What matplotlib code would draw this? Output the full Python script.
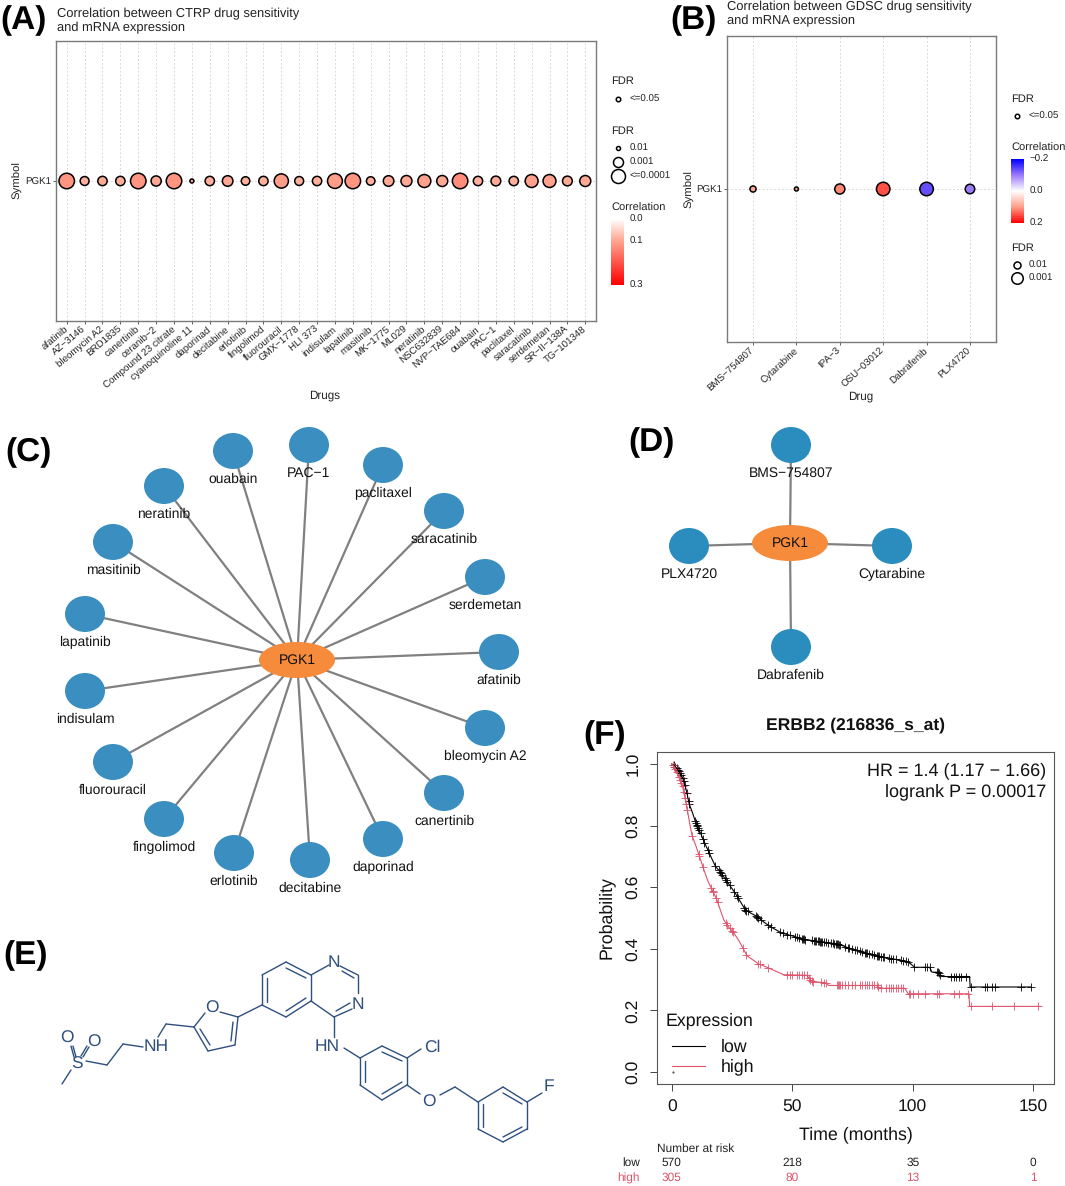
import numpy as np
import matplotlib
matplotlib.use("Agg")
import matplotlib.pyplot as plt
from matplotlib.colors import LinearSegmentedColormap
from matplotlib.patches import Ellipse
from matplotlib.transforms import blended_transform_factory

plt.rcParams["font.family"] = ["Liberation Sans", "DejaVu Sans"]
plt.rcParams["text.hinting"] = "no_hinting"

W, H = 1065, 1186

# ---- panel A data
ctrp_drugs = ["afatinib", "AZ\u22123146", "bleomycin A2", "BRD1835", "canertinib", "ceranib\u22122",
              "Compound 23 citrate", "cyanoquinoline 11", "daporinad", "decitabine", "erlotinib",
              "fingolimod", "fluorouracil", "GMX\u22121778", "HLI 373", "indisulam", "lapatinib",
              "masitinib", "MK\u22121775", "ML029", "neratinib", "NSC632839", "NVP\u2212TAE684",
              "ouabain", "PAC\u22121", "paclitaxel", "saracatinib", "serdemetan", "SR\u2212II\u2212138A",
              "TG\u2212101348"]
ctrp_logfdr = [4.0, 2.8, 2.9, 2.9, 4.0, 3.1, 4.0, 1.9, 2.9, 3.2, 2.7, 2.9, 3.8, 2.8, 2.9,
               3.9, 4.0, 2.7, 3.2, 3.3, 3.6, 3.3, 4.0, 2.9, 3.0, 2.9, 3.6, 3.6, 3.0, 3.3]
ctrp_corr = [0.12, 0.09, 0.095, 0.09, 0.12, 0.095, 0.12, 0.10, 0.09, 0.095, 0.09, 0.09, 0.11, 0.09, 0.09,
             0.11, 0.12, 0.09, 0.095, 0.095, 0.105, 0.095, 0.13, 0.09, 0.095, 0.09, 0.105, 0.105, 0.095, 0.095]

# ---- panel B data
gdsc_drugs = ["BMS\u2212754807", "Cytarabine", "IPA\u22123", "OSU\u221203012", "Dabrafenib", "PLX4720"]
gdsc_logfdr = [1.9, 1.4, 2.6, 3.2, 3.2, 2.5]
gdsc_corr = [0.09, 0.10, 0.115, 0.15, -0.135, -0.10]

# ---- panel C / D networks: label, node x, node y (pixels of the layout)
net_c_names = ["ouabain", "PAC\u22121", "paclitaxel", "saracatinib", "serdemetan", "afatinib",
               "bleomycin A2", "canertinib", "daporinad", "decitabine", "erlotinib", "fingolimod",
               "fluorouracil", "indisulam", "lapatinib", "masitinib", "neratinib"]
net_c_x = [233, 309, 383, 444, 485, 499, 485, 444, 383, 310, 234, 164, 113, 85, 85, 113, 164]
net_c_y = [451, 445, 465, 511, 577, 652, 728, 793, 839, 860, 853, 819, 762, 691, 614, 542, 486]
net_d_names = ["BMS\u2212754807", "PLX4720", "Cytarabine", "Dabrafenib"]
net_d_x = [791, 689, 892, 791]
net_d_y = [445, 546, 546, 647]

# ---- panel E lapatinib skeleton, segments in layout pixels
mol_bonds = [
    (286, 962, 311, 975), (311, 975, 311, 1001), (311, 1001, 286, 1017), (286, 1017, 262, 1005),
    (262, 1005, 262, 975), (262, 975, 286, 962), (311, 975, 329, 965), (340, 966, 358, 975),
    (358, 975, 358, 993), (352, 1009, 334, 1017), (334, 1017, 311, 1001),
    (334, 1017, 334, 1037), (344, 1048, 360, 1058),
    (360, 1058, 382, 1046), (382, 1046, 407, 1058), (407, 1058, 407, 1085), (407, 1085, 382, 1100),
    (382, 1100, 360, 1085), (360, 1085, 360, 1058), (407, 1058, 421, 1049), (407, 1085, 420, 1094),
    (440, 1095, 455, 1087), (455, 1087, 478, 1102),
    (478, 1102, 503, 1087), (503, 1087, 527, 1102), (527, 1102, 527, 1129), (527, 1129, 503, 1142),
    (503, 1142, 478, 1129), (478, 1129, 478, 1102), (527, 1102, 542, 1093),
    (238, 1017, 262, 1005), (220, 1012, 238, 1017), (238, 1017, 235, 1045), (235, 1045, 208, 1051),
    (208, 1051, 194, 1027), (194, 1027, 205, 1013), (194, 1027, 166, 1024), (166, 1024, 158, 1037),
    (143, 1047, 123, 1044), (123, 1044, 107, 1065), (107, 1065, 86, 1061), (71, 1070, 62, 1084),
]
mol_double = [
    (286, 968, 306, 978), (306, 998, 286, 1011), (267, 1002, 267, 978),
    (342, 971, 354, 978), (350, 1003, 336, 1011),
    (382, 1052, 402, 1061), (402, 1082, 382, 1094), (365, 1082, 365, 1061),
    (503, 1093, 522, 1104), (522, 1127, 503, 1137), (483, 1127, 483, 1104),
    (233, 1022, 231, 1041), (210, 1045, 200, 1029),
    (73, 1046, 76, 1057), (71, 1046, 74, 1057), (89, 1047, 83, 1057), (87, 1046, 81, 1056),
]
mol_atoms = [("N", 334, 963), ("N", 358, 1005), ("HN", 327, 1047), ("Cl", 432, 1047), ("O", 429, 1102),
             ("F", 549, 1087), ("O", 212, 1008), ("NH", 156, 1047), ("S", 77, 1064), ("O", 67, 1038),
             ("O", 94, 1042)]

# ---- panel F Kaplan-Meier curves
low_t = [0, 1.2, 2.6, 4, 5.1, 6.2, 7.2, 8.7, 10.3, 12, 13.4, 15.4, 16.8, 18.2, 20.2, 23, 26.4, 28.5, 30.6, 33,
         35.4, 38, 40.9, 45.7, 50, 54.7, 59, 63, 69, 71, 73.3, 77, 80.2, 84, 87.7, 92, 97.4, 99, 100.8, 107,
         108, 110.9, 112, 113.6, 123.6, 123.8, 149]
low_p = [1.0, 0.995, 0.98, 0.965, 0.943, 0.91, 0.872, 0.84, 0.802, 0.775, 0.748, 0.714, 0.69, 0.667, 0.649, 0.618,
         0.58, 0.553, 0.526, 0.515, 0.505, 0.488, 0.472, 0.451, 0.442, 0.431, 0.426, 0.422, 0.415, 0.41,
         0.403, 0.395, 0.386, 0.38, 0.373, 0.367, 0.359, 0.352, 0.34, 0.34, 0.324, 0.324, 0.31, 0.31, 0.31,
         0.276, 0.276]
high_t = [0, 1.2, 2.6, 4.4, 5.5, 6.5, 7.5, 8.5, 10, 11.3, 13.4, 15, 16.8, 18.6, 20, 21.6, 23.5, 25.8, 28, 29.9,
          31.3, 33.5, 36.1, 39.5, 43, 46.4, 56, 58.1, 64.3, 65, 85, 86.1, 96.7, 98.1, 123.3, 123.6, 153]
high_p = [1.0, 0.99, 0.964, 0.932, 0.89, 0.851, 0.805, 0.766, 0.735, 0.705, 0.656, 0.62, 0.591, 0.562, 0.53, 0.494,
          0.472, 0.451, 0.425, 0.397, 0.377, 0.365, 0.351, 0.34, 0.328, 0.316, 0.314, 0.294, 0.289, 0.281, 0.281,
          0.272, 0.272, 0.254, 0.254, 0.213, 0.213]
low_censor = [1, 1.5, 2, 2.5, 3, 3.5, 4, 4.5, 5, 5.5, 6.3, 7, 7.3, 9.8, 10, 10.3, 10.6, 11, 11.4, 12, 13, 13.6, 15,
              15.5, 18, 19.5, 20, 20.5, 21, 22, 22.5, 23, 24, 26, 27, 27.5, 30, 30.5, 31, 31.5, 35, 35.5, 36, 37,
              40, 41, 45, 46, 48, 49, 51, 52, 53, 54, 54.5, 55, 55.5, 58, 59, 59.5, 60, 60.5, 61, 61.5, 62, 62.5,
              63, 64, 65, 66, 67, 67.5, 68, 68.5, 69, 69.5, 70, 72, 73, 73.5, 75, 76, 77, 78, 79, 80, 80.5, 81, 82,
              83, 84, 85, 85.5, 86, 87, 87.5, 88, 90, 91, 92, 93, 95, 96, 97, 98, 100.5, 105, 106, 107, 110, 110.5,
              111, 111.5, 116, 117, 118, 119, 120, 122, 124, 130, 131, 133, 134, 145, 149]
high_censor = [0.5, 1, 1.5, 2, 3, 3.5, 4, 4.5, 5, 5.5, 6, 6.5, 8.5, 11.2, 11.5, 13, 16.5, 17, 17.3, 18.5, 19, 22.5,
               23, 24, 25, 25.5, 29.5, 31, 36, 36.5, 40, 48, 49, 50, 52, 53, 54, 55, 56, 57, 57.5, 58, 58.5, 62, 63,
               64, 68.5, 69, 69.5, 70, 70.5, 72, 73, 75, 76, 78, 79, 80, 81, 82, 83, 84, 85, 85.5, 87, 89, 90, 91,
               92, 93, 94, 95, 96, 98.5, 99, 100, 102, 105, 110, 111, 117, 119, 123, 124, 133, 142, 152]
risk_times = [0, 50, 100, 150]
risk_low = [570, 218, 35, 0]
risk_high = [305, 80, 13, 1]

panel_labels = [("(A)", 0, 21), ("(B)", 670, 21), ("(C)", 5, 453), ("(D)", 628, 443), ("(E)", 3, 956), ("(F)", 583, 736)]

corr_a = LinearSegmentedColormap.from_list("a", [(0, "#ffffff"), (1 / 3, "#ffa58f"), (1, "#ff0000")])
corr_b = LinearSegmentedColormap.from_list("b", ["#0000ff", "#9d7bfb", "#ffffff", "#ffa08a", "#ff0000"])
GREY = "#7a7a7a"
RED = "#DF536B"
NAVY = "#2f4f7f"

fig = plt.figure(figsize=(W / 100, H / 100), dpi=100)


def axes_px(l, t, r, b):
    return fig.add_axes([l / W, 1 - b / H, (r - l) / W, (b - t) / H])


def px_size(d):
    return (d * 0.72) ** 2


def bubble_panel(box, drugs, logfdr, corr, cmap, vmin, vmax, xp, dp, pad, rot):
    ax = axes_px(*box)
    x = np.arange(len(drugs))
    diam = np.interp(logfdr, xp, dp)
    ax.scatter(x, np.zeros(len(x)), s=px_size(diam), c=corr, cmap=cmap, vmin=vmin, vmax=vmax,
               edgecolors="black", linewidths=1.1, zorder=3)
    ax.set_xlim(-pad, len(drugs) - 1 + pad)
    ax.set_ylim(-1, 1)
    ax.set_xticks(x)
    ax.set_xticklabels(drugs, rotation=rot, ha="right", va="center", rotation_mode="anchor",
                       fontsize=7.0, color="#222222")
    ax.set_yticks([0])
    ax.set_yticklabels(["PGK1"], fontsize=7.0, color="#222222")
    ax.tick_params(axis="y", length=2.2, width=0.6, color="#444444", pad=1.5)
    ax.tick_params(axis="x", length=2.2, width=0.6, color="#444444", pad=3)
    ax.grid(True, color="#d9d9d9", lw=0.7, ls=(0, (2, 2)))
    ax.set_axisbelow(True)
    for s in ax.spines.values():
        s.set_color(GREY)
        s.set_linewidth(1.0)
    return ax


def colorbar_px(box, cmap, ticks, labels, vmin, vmax, text_x):
    cax = axes_px(*box)
    grad = np.linspace(vmin, vmax, 200).reshape(-1, 1)
    cax.imshow(grad, aspect="auto", cmap=cmap, vmin=vmin, vmax=vmax, extent=[0, 1, vmax, vmin])
    cax.axis("off")
    for v, lab in zip(ticks, labels):
        cax.text(text_x, v, lab, fontsize=7, va="center", ha="left", color="#222222",
                 transform=blended_transform_factory(cax.transAxes, cax.transData), clip_on=False)


# panel A
bubble_panel((56, 41, 596, 321), ctrp_drugs, ctrp_logfdr, ctrp_corr, corr_a, 0, 0.3,
             [1.9, 2.7, 3.3, 4.0], [4, 8.5, 11, 15.5], 0.6, 40)
colorbar_px((611, 219, 624, 285), corr_a, [0.0, 0.1, 0.3], ["0.0", "0.1", "0.3"], 0, 0.3, 1.45)

# panel B
bubble_panel((727, 36, 996, 342), gdsc_drugs, gdsc_logfdr, gdsc_corr, corr_b, -0.2, 0.2,
             [1.4, 2.0, 3.0, 3.3], [4, 6.5, 12.5, 14], 0.6, 43)
colorbar_px((1011, 159, 1024, 223), corr_b, [-0.2, 0.0, 0.2], ["\u22120.2", "0.0", "0.2"], -0.2, 0.2, 1.4)

# panel F
ax = axes_px(657, 752, 1054, 1084)
ax.plot(low_t, low_p, color="black", lw=0.8, zorder=3)
ax.plot(high_t, high_p, color=RED, lw=0.8, zorder=3)
ax.plot(low_censor, np.interp(low_censor, low_t, low_p), "+", color="black", ms=6, mew=0.6)
ax.plot(high_censor, np.interp(high_censor, high_t, high_p), "+", color=RED, ms=6, mew=0.6)
ax.set_xlim(-6.1, 158.6)
ax.set_ylim(-0.039, 1.039)
ax.set_xticks([0, 50, 100, 150])
ax.set_yticks([0, 0.2, 0.4, 0.6, 0.8, 1.0])
ax.set_yticklabels(["0.0", "0.2", "0.4", "0.6", "0.8", "1.0"], rotation=90, va="center")
ax.tick_params(labelsize=12.6, length=5, width=0.7, color="#444444", pad=6, labelcolor="#111111")
ax.set_xlabel("Time (months)", fontsize=12.8, labelpad=8, color="#111111")
ax.set_ylabel("Probability", fontsize=12.8, labelpad=8, color="#111111")
ax.set_title("ERBB2 (216836_s_at)", fontsize=12.6, fontweight="bold", pad=16, color="#111111")
for s in ax.spines.values():
    s.set_color("#555555")
    s.set_linewidth(0.8)
ax.text(0.98, 0.944, "HR = 1.4 (1.17 \u2212 1.66)", transform=ax.transAxes,
        ha="right", va="center", fontsize=13, color="#111111")
ax.text(0.98, 0.881, "logrank P = 0.00017", transform=ax.transAxes,
        ha="right", va="center", fontsize=13, color="#111111")
risk_tr = blended_transform_factory(ax.transData, fig.transFigure)
for t, lo, hi in zip(risk_times, risk_low, risk_high):
    ax.text(t, 1 - 1163 / H, str(lo), transform=risk_tr, ha="center", va="center", fontsize=8.6, color="#222222")
    ax.text(t, 1 - 1178 / H, str(hi), transform=risk_tr, ha="center", va="center", fontsize=8.6, color=RED)

# everything laid out by hand goes on one overlay in picture pixels
ov = fig.add_axes([0, 0, 1, 1], zorder=10)
ov.set_xlim(0, W)
ov.set_ylim(H, 0)
ov.axis("off")
ov.patch.set_alpha(0)


def txt(x, y, s, size=7.0, ha="left", color="#222222", **kw):
    ov.text(x, y, s, fontsize=size, ha=ha, va="center", color=color, **kw)


def legend_dot(x, y, d):
    ov.scatter([x], [y], s=px_size(d), facecolors="white", edgecolors="black", linewidths=1.1)


for s, x, y in panel_labels:
    txt(x, y, s, size=24, color="black", fontweight="bold")

txt(57, 14, "Correlation between CTRP drug sensitivity", size=9.3)
txt(57, 28, "and mRNA expression", size=9.3)
txt(727, 7, "Correlation between GDSC drug sensitivity", size=9.3)
txt(727, 21, "and mRNA expression", size=9.3)
txt(17, 180, "Symbol", size=8.2, ha="center", rotation=90)
txt(325, 395, "Drugs", size=8.4, ha="center")
txt(689, 189, "Symbol", size=8.2, ha="center", rotation=90)
txt(861, 396, "Drug", size=8.4, ha="center")

# legends A
txt(611, 81, "FDR", size=8)
legend_dot(618, 99, 4.5)
txt(630, 99, "<=0.05")
txt(611, 131, "FDR", size=8)
for y, d, lab in [(148, 4, "0.01"), (162, 10, "0.001"), (176, 14, "<=0.0001")]:
    legend_dot(618, y, d)
    txt(630, y, lab)
txt(611, 208, "Correlation", size=8)

# legends B
txt(1011, 99, "FDR", size=8)
legend_dot(1017, 116, 4.5)
txt(1029, 116, "<=0.05")
txt(1011, 148, "Correlation", size=8)
txt(1011, 248, "FDR", size=8)
for y, d, lab in [(265, 7, "0.01"), (278, 11.5, "0.001")]:
    legend_dot(1017, y, d)
    txt(1029, y, lab)


def network(cx, cy, names, xs, ys, color):
    for x, y in zip(xs, ys):
        ov.plot([cx, x], [cy, y], color="#808080", lw=1.6, zorder=1, solid_capstyle="round")
    for name, x, y in zip(names, xs, ys):
        ov.add_patch(Ellipse((x, y), 40, 36, fc=color, ec="none", zorder=2))
        ov.text(x, y + 28, name, fontsize=10, ha="center", va="center", color="#111111", zorder=4)
    ov.add_patch(Ellipse((cx, cy), 76, 36, fc="#F58B3B", ec="none", zorder=3))
    ov.text(cx, cy, "PGK1", fontsize=10, ha="center", va="center", color="#111111", zorder=4)


network(297, 660, net_c_names, net_c_x, net_c_y, "#3A8FC0")
network(790, 543, net_d_names, net_d_x, net_d_y, "#2A8DBE")

# panel E
for x0, y0, x1, y1 in mol_bonds + mol_double:
    ov.plot([x0, x1], [y0, y1], color=NAVY, lw=1.0, solid_capstyle="round")
for s, x, y in mol_atoms:
    txt(x, y, s, size=12.5, ha="center", color=NAVY)

# panel F legend and risk titles
txt(666, 1021, "Expression", size=12.8, color="#111111")
ov.plot([672, 705], [1046, 1046], color="black", lw=0.8)
ov.plot([672, 705], [1066, 1066], color=RED, lw=0.8)
ov.plot([673], [1072], ".", color="#333333", ms=1)
txt(721, 1047, "low", size=12.8, color="#111111")
txt(721, 1067, "high", size=12.8, color="#111111")
txt(657, 1149, "Number at risk", size=8.6)
txt(640, 1163, "low", size=8.6, ha="right")
txt(640, 1178, "high", size=8.6, ha="right", color=RED)

fig.savefig("out.png", dpi=100)
